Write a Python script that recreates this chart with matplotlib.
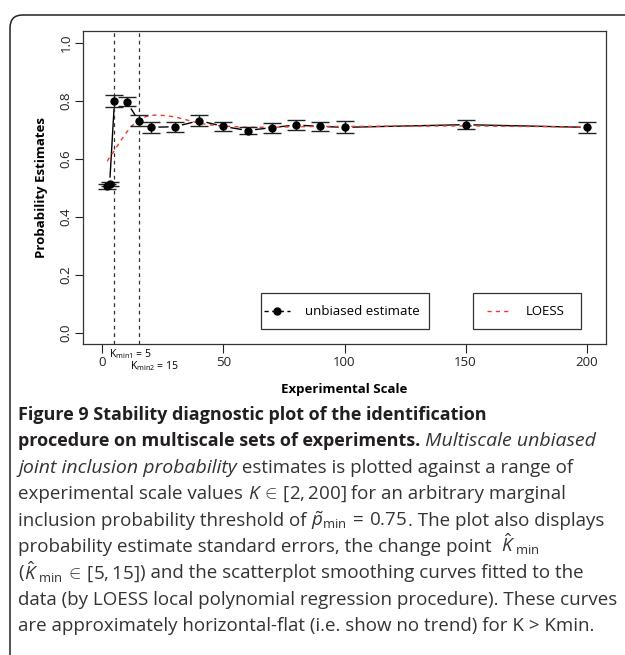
import numpy as np
import matplotlib
matplotlib.use("Agg")
import matplotlib.pyplot as plt
from matplotlib.lines import Line2D
from matplotlib.patches import Rectangle, FancyBboxPatch

plt.rcParams['font.family'] = ['Open Sans', 'DejaVu Sans']
plt.rcParams['mathtext.fontset'] = 'custom'
plt.rcParams['mathtext.rm'] = 'Open Sans'
plt.rcParams['mathtext.it'] = 'Open Sans:italic'

W, H = 625, 655

# experimental scales and the unbiased joint inclusion probability estimates
scale_k = [2, 3, 5, 10, 15, 20, 30, 40, 50, 60, 70, 80, 90, 100, 150, 200]
prob_est = [0.504, 0.513, 0.798, 0.796, 0.731, 0.708, 0.710, 0.731, 0.711,
            0.697, 0.707, 0.716, 0.711, 0.708, 0.717, 0.708]
prob_se = [0.008, 0.008, 0.020, 0.016, 0.018, 0.018, 0.017, 0.018, 0.015,
           0.012, 0.017, 0.016, 0.017, 0.021, 0.016, 0.018]

# LOESS smoothing curve
loess_k = [2, 3, 5, 7, 10, 12, 15, 18, 20, 22, 25, 30, 35, 40, 45, 50, 60,
           70, 80, 90, 100, 125, 150, 175, 200]
loess_p = [0.591, 0.605, 0.628, 0.655, 0.691, 0.712, 0.731, 0.745, 0.749,
           0.750, 0.749, 0.744, 0.733, 0.722, 0.716, 0.712, 0.708, 0.708,
           0.710, 0.711, 0.711, 0.712, 0.713, 0.711, 0.709]

# change points
k_min = [5, 15]
k_min_labels = [r"K$_{\rm min1}$ = 5", r"K$_{\rm min2}$ = 15"]

x_ticks = [0, 50, 100, 150, 200]
y_ticks = [0.0, 0.2, 0.4, 0.6, 0.8, 1.0]

red = '#ee3b2b'
dash = (0, (3, 3))

fig = plt.figure(figsize=(W / 100, H / 100), dpi=100)
ax = fig.add_axes([83 / W, 1 - 344.3 / H, 523 / W, 313.3 / H])

# rounded frame around the figure panel (right and bottom run off the page)
frame = FancyBboxPatch((10 / W, -0.2), 1.2, 1 - 15 / H + 0.2,
                       boxstyle="round,pad=0,rounding_size=0.02",
                       transform=fig.transFigure, fill=False,
                       ec='#222222', lw=1.1)
fig.patches.append(frame)

# estimates drawn R "type b" style: line broken around each point
ax.plot(scale_k, prob_est, color='black', lw=1.0, zorder=2)
ax.plot(scale_k, prob_est, 'o', ms=9, mfc='white', mec='white', zorder=3)
ax.plot(loess_k, loess_p, color=red, lw=1.0, ls=dash, zorder=3.5)
ax.errorbar(scale_k, prob_est, yerr=prob_se, fmt='none', ecolor='#222222',
            elinewidth=1.0, capsize=6.3, capthick=1.0, zorder=4)
ax.plot(scale_k, prob_est, 'o', ms=5, color='black', zorder=5)

for k in k_min:
    ax.axvline(k, color='#333333', lw=0.9, ls=dash, zorder=3.6)

ax.set_xlim(-8, 208)
ax.set_ylim(-0.04, 1.04)
ax.set_xticks(x_ticks)
ax.set_yticks(y_ticks)
ax.set_yticklabels([f"{v:.1f}" for v in y_ticks], rotation=90, va='center')
ax.tick_params(axis='x', length=6.5, width=0.8, pad=2, labelsize=9.5,
               colors='#222222')
ax.tick_params(axis='y', length=5.5, width=0.8, pad=2, labelsize=9.5,
               colors='#222222')
for sp in ax.spines.values():
    sp.set_linewidth(0.9)
    sp.set_color('#333333')

ax.set_xlabel("Experimental Scale", fontsize=9.5, fontweight='bold',
              labelpad=10)
ax.set_ylabel("Probability Estimates", fontsize=9.5, fontweight='bold',
              labelpad=8)

# change point labels under the axis
fig.text(109 / W, 1 - 354 / H, k_min_labels[0], fontsize=7.5, va='center',
         ha='left')
fig.text(130 / W, 1 - 366 / H, k_min_labels[1], fontsize=7.5, va='center',
         ha='left')


def legend_box(x0, x1, handle, label, tx):
    # hand-placed legend boxes, coordinates in axes fraction
    y0, y1 = 0.0488, 0.1628
    ax.add_patch(Rectangle((x0, y0), x1 - x0, y1 - y0, transform=ax.transAxes,
                           fill=False, ec='#333333', lw=0.9, zorder=6))
    ax.add_line(handle)
    ax.text(tx, (y0 + y1) / 2, label, transform=ax.transAxes, fontsize=9.5,
            va='center', ha='left', zorder=7)


yc = 0.106
legend_box(0.340, 0.6616,
           Line2D([0.346, 0.396], [yc, yc], transform=ax.transAxes,
                  color='black', lw=1.0, ls=(0, (3, 2.5)), zorder=7),
           "unbiased estimate", 0.4245)
ax.plot([0.371], [yc], 'o', ms=5, color='black', transform=ax.transAxes,
        zorder=8, clip_on=False)
legend_box(0.7457, 0.9522,
           Line2D([0.772, 0.820], [yc, yc], transform=ax.transAxes,
                  color=red, lw=1.0, ls=dash, zorder=7),
           "LOESS", 0.847)

# caption
cap_color = '#333333'
bold = dict(fontsize=13, fontweight='bold', color='#231f20')
ital = dict(fontsize=14, style='italic', color=cap_color)
reg = dict(fontsize=13.5, color=cap_color)

caption = [
    [("Figure 9 Stability diagnostic plot of the identification", bold)],
    [("procedure on multiscale sets of experiments.", bold),
     (" Multiscale unbiased", ital)],
    [("joint inclusion probability", ital),
     (" estimates is plotted against a range of", reg)],
    [("experimental scale values ", reg), (r"$K\,\in\,[2, 200]$", reg),
     (" for an arbitrary marginal", reg)],
    [("inclusion probability threshold of ", reg),
     (r"$\tilde{p}_{\rm min}\,=\,0.75$", reg), (". The plot also displays", reg)],
    [("probability estimate standard errors, the change point  ", reg),
     (r"$\hat{K}_{\rm\ min}$", reg)],
    [("(", reg), (r"$\hat{K}_{\rm\ min}\,\in\,[5, 15]$", reg),
     (") and the scatterplot smoothing curves fitted to the", reg)],
    [("data (by LOESS local polynomial regression procedure). These curves",
      reg)],
    [("are approximately horizontal-flat (i.e. show no trend) for K > Kmin.",
      reg)],
]

renderer = fig.canvas.get_renderer()
for i, pieces in enumerate(caption):
    x = 18
    y = 420 + 26.4 * i
    for s, kw in pieces:
        t = fig.text(x / W, 1 - y / H, s, va='baseline', ha='left', **kw)
        x += t.get_window_extent(renderer).width

fig.savefig("out.png", dpi=100)
